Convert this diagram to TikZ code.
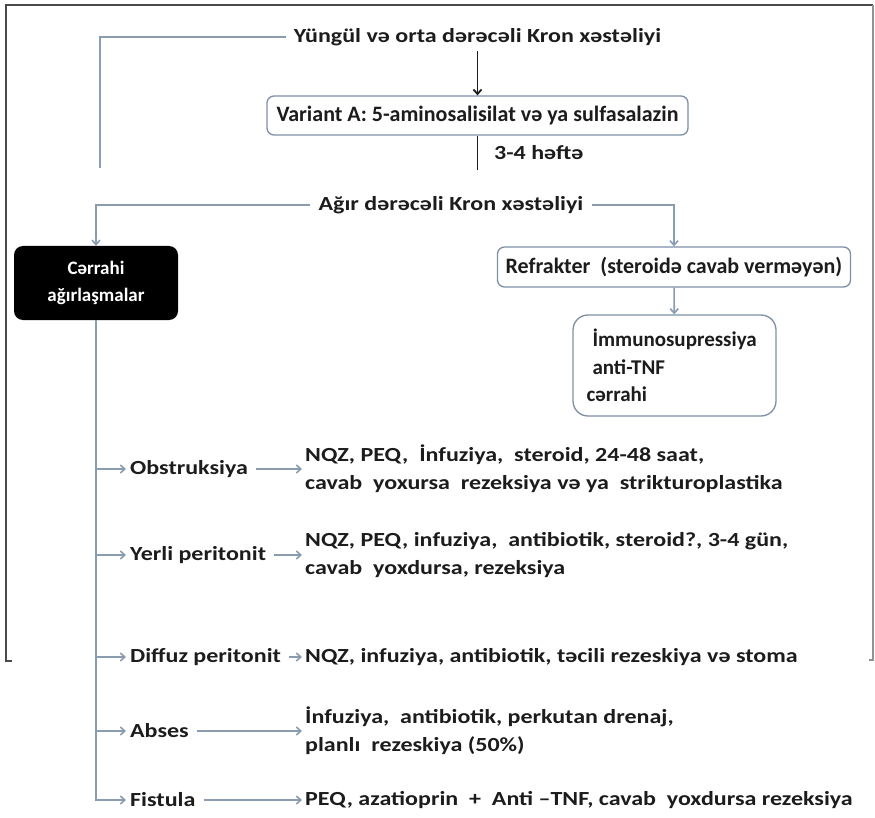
\documentclass[tikz,border=0pt]{standalone}
\usepackage{fontspec}
\setmainfont{Carlito}[FakeStretch=1.2]
\newfontfamily\plainfont{Carlito}
\usepackage{xcolor}
\definecolor{ink}{HTML}{1C1C1C}
\definecolor{edge}{HTML}{8A9CB0}
\definecolor{bord}{HTML}{7D90A6}
\definecolor{frm}{HTML}{4A4A4A}
\usetikzlibrary{arrows.meta}
\tikzset{
  >={Straight Barb[length=4.5pt,width=8pt]},
  box/.style={draw=bord,rounded corners=7pt,line width=1.3pt,fill=white,text=ink,inner sep=0pt,align=center,
    font=\plainfont\fontsize{22}{27.5}\selectfont\bfseries},
  dbox/.style={fill=black,rounded corners=9pt,text=white,inner sep=0pt,align=center,
    font=\plainfont\fontsize{19}{27}\selectfont\bfseries},
  lab/.style={text=ink,inner sep=0pt,anchor=west,align=left},
  ttl/.style={text=ink,inner xsep=8pt,inner ysep=5pt},
  arr/.style={->,draw=edge,line width=1.6pt},
  garr/.style={arr,shorten <=8pt,shorten >=3pt},
  gline/.style={draw=edge,line width=1.6pt},
  barr/.style={->,draw=ink,line width=1.8pt},
}

\begin{document}
\begin{tikzpicture}[x=1pt,y=-1pt,every node/.style={font=\fontsize{20}{28}\selectfont\bfseries}]
\useasboundingbox (0,0) rectangle (875,818);
% frame
\draw[frm,line width=2.4pt] (12,661) -- (6,661) -- (6,5) -- (873,5);
\draw[frm!60,line width=1.6pt] (873,5) -- (873,660) -- (869,660);

% mild / moderate
\node[ttl] (y) at (477.5,37) {Yüngül və orta dərəcəli Kron xəstəliyi};
\node[box,minimum width=421pt,minimum height=39pt] (v) at (477.5,115.5) {Variant A: 5-aminosalisilat və ya sulfasalazin};
\coordinate (w) at (477.5,170);
\coordinate (l) at (100,168);
\draw[barr] (y) -- (v);
\draw[draw=ink,line width=1.8pt] (v) -- (w);
\node[lab] (h) at (494,153) {3-4 həftə};
\draw[gline] (y.west) -| (l);

% severe
\node[ttl] (a) at (451,205) {Ağır dərəcəli Kron xəstəliyi};
\node[dbox,minimum width=164pt,minimum height=74pt] (c) at (96,283) {Cərrahi\\ağırlaşmalar};
\node[box,minimum width=353pt,minimum height=40pt] (r) at (674,267) {Refrakter\ \ (steroidə cavab verməyən)};
\node[box,rounded corners=15pt,align=left,inner xsep=6.5pt,text width=190pt,minimum height=101pt,
  font=\plainfont\fontsize{21}{27.5}\selectfont\bfseries] (i) at (674.5,365.5)
  {\hspace*{13pt}İmmunosupressiya\\\hspace*{13pt}anti-TNF\\\hspace*{7pt}cərrahi};
\draw[arr] (a.west) -| (c.north);
\draw[arr] (a.east) -| (r.north);
\draw[arr] (r) -- (i);

% complications
\node[lab] (o) at (130,469) {Obstruksiya};
\node[lab] (od) at (305,469) {NQZ, PEQ,\ \ İnfuziya,\ \ steroid, 24-48 saat,\\cavab\ \ yoxursa\ \ rezeksiya və ya\ \ strikturoplastika};
\node[lab] (p) at (130,555) {Yerli peritonit};
\node[lab] (pd) at (305,555) {NQZ, PEQ, infuziya,\ \ antibiotik, steroid?, 3-4 gün,\\cavab\ \ yoxdursa, rezeksiya};
\node[lab] (d) at (130,657) {Diffuz\ peritonit};
\node[lab] (dd) at (305,657) {NQZ, infuziya, antibiotik, təcili rezeskiya və stoma};
\node[lab] (b) at (130,731) {Abses};
\node[lab] (bd) at (305,731) {İnfuziya,\ \ antibiotik, perkutan drenaj,\\planlı\ \ rezeskiya (50\%)};
\node[lab] (f) at (130,800) {Fistula};
\node[lab] (fd) at (305,800) {PEQ, azatioprin\ \ +\ \ Anti –TNF, cavab\ \ yoxdursa rezeksiya};

\draw[arr,shorten >=4pt] (c.south) |- (f.west);
\foreach \n in {o,p,d,b} \draw[arr,shorten >=4pt] (c.south |- \n.west) -- (\n.west);
\foreach \n in {o,p,d,b,f} \draw[garr] (\n) -- (\n d);
\end{tikzpicture}
\end{document}
